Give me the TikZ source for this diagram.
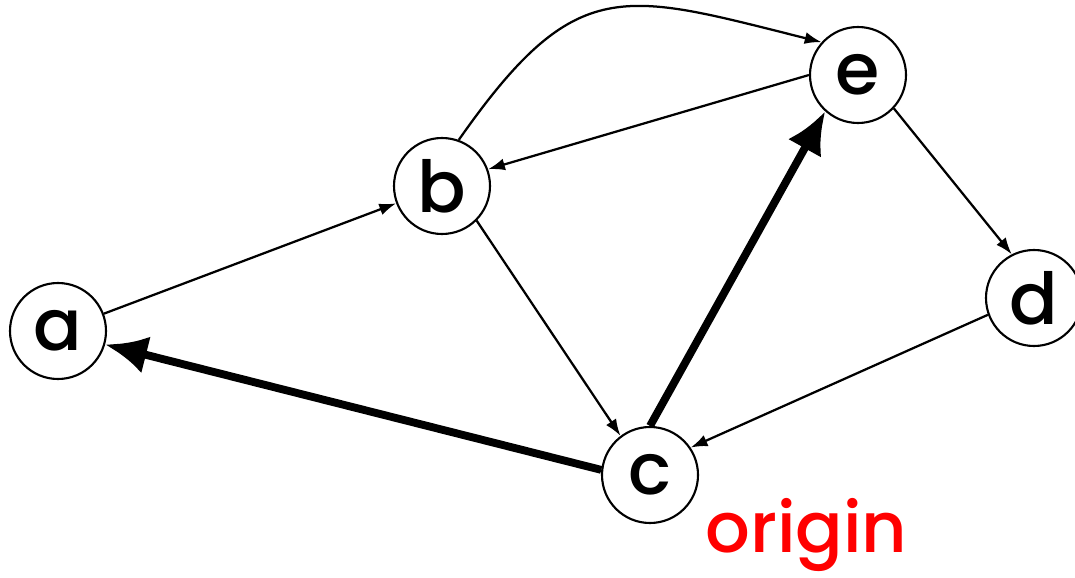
\documentclass[tikz,border=0pt]{standalone}
\usepackage{fontspec}
\setmainfont{Poppins}
\newfontfamily\vertexfont{Poppins Medium}
\usetikzlibrary{positioning,arrows.meta}
\tikzset{
    vertex/.style = {
        draw,
        shape=circle,
        minimum size=2.4cm,
        inner sep=0pt,
        line width=1.5pt,
        font=\vertexfont\fontsize{51}{51}\selectfont
    },
    edge/.style = {
        draw,
        line width=1.6pt,
        -{Latex[length=0.42cm,width=0.3cm]}
    },
    treeedge/.style = {
        draw,
        line width=5.6pt,
        -{Latex[length=1.05cm,width=0.95cm]}
    },
    note/.style = {
        text=red,
        inner sep=0pt,
        font=\vertexfont\fontsize{50}{50}\selectfont
    },
}

\begin{document}
\begin{tikzpicture}
        \useasboundingbox (0,0) rectangle (26.875,14.425);

        \node[vertex] (a) at (1.45,6.15) {a};
        \node[vertex] (b) at (11.05,9.775) {b};
        \node[vertex] (e) at (21.45,12.55) {e};
        \node[vertex] (c) at (16.25,2.55) {c};
        \node[vertex] (d) at (25.85,6.975) {d};

        \node[note, anchor=base west] (origin) at (17.625,0.625) {origin};

        \path[edge] (a) -- (b);
        \path[edge] (b.70) to[out=55, in=166, looseness=1.4] (e.138);
        \path[edge] (e.west) -- (b.20);
        \path[edge] (b.-45) -- (c.127);
        \path[edge] (e.-43) -- (d.117);
        \path[edge] (d.200) -- (c.34);

        \path[treeedge] (c.174) -- (a.-16);
        \path[treeedge] (c.north) -- (e.228);
    \end{tikzpicture}
\end{document}
